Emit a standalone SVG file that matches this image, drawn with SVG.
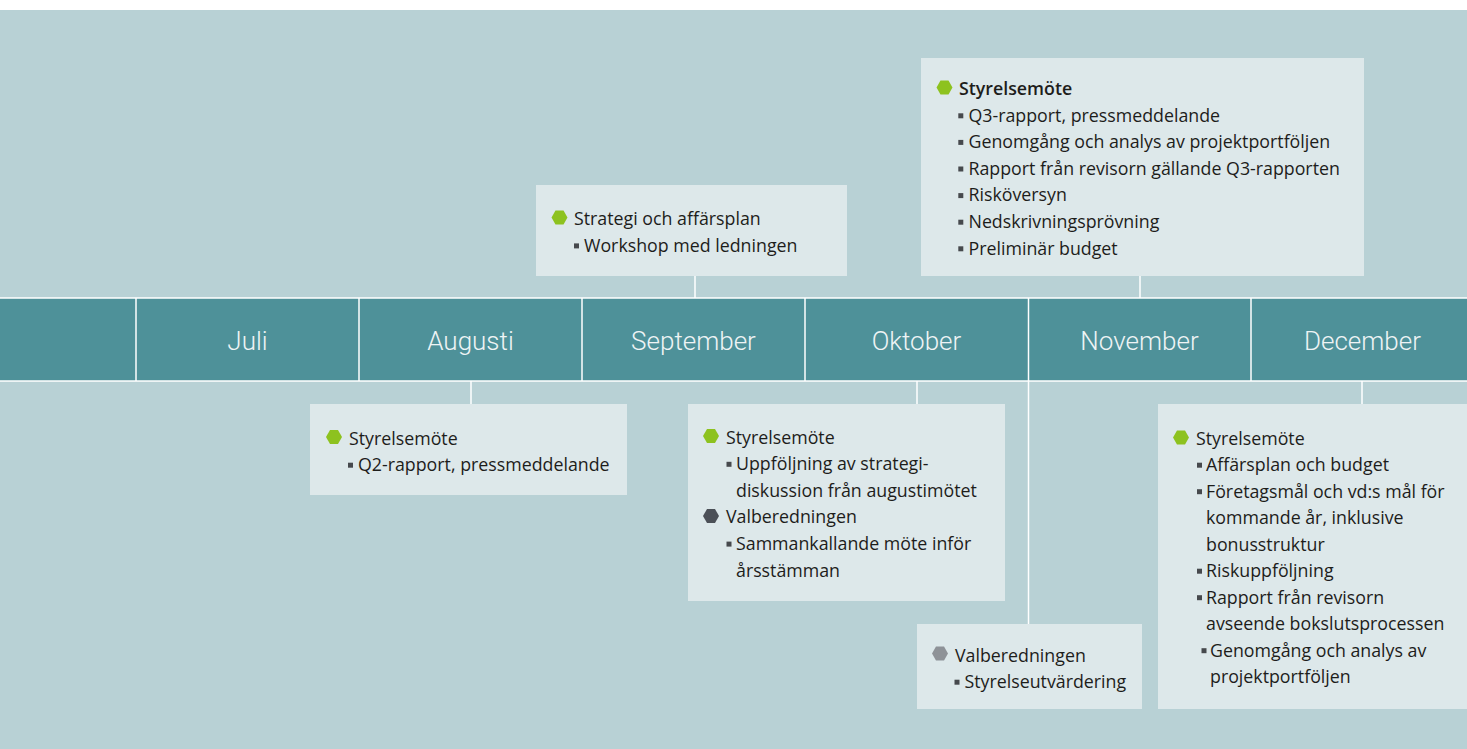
<svg xmlns="http://www.w3.org/2000/svg" xmlns:xlink="http://www.w3.org/1999/xlink" width="1467" height="749" viewBox="0 0 1467 749">
<style>
.box{fill:#dde8ea}
.t{font-family:"Open Sans","Noto Sans","Liberation Sans",sans-serif;font-size:17.8px;fill:#1d1d1b}
.tb{font-weight:600}
.m{font-family:Roboto,"Liberation Sans",sans-serif;font-weight:300;font-size:26px;fill:#eef4f5;text-anchor:middle}
.sq{fill:#46494d}
.ln{stroke:#ffffff;stroke-width:1.5;fill:none}
</style>
<defs>
<polygon id="hex" points="-8,0 -4,-7 4,-7 8,0 4,7 -4,7"/>
</defs>
<rect x="0" y="0" width="1467" height="749" fill="#ffffff"/>
<rect x="0" y="10" width="1467" height="739" fill="#b8d1d5"/>

<g id="band">
<rect x="-2" y="298" width="1471" height="83" fill="#4e9199" stroke="#ffffff" stroke-width="1.5"/>
<g class="ln">
<line x1="136" y1="298" x2="136" y2="381"/>
<line x1="359" y1="298" x2="359" y2="381"/>
<line x1="582" y1="298" x2="582" y2="381"/>
<line x1="805" y1="298" x2="805" y2="381"/>
<line x1="1028.5" y1="298" x2="1028.5" y2="381"/>
<line x1="1251" y1="298" x2="1251" y2="381"/>
</g>
<text class="m" x="247.5" y="350">Juli</text>
<text class="m" x="470.5" y="350">Augusti</text>
<text class="m" x="693.5" y="350">September</text>
<text class="m" x="916.5" y="350">Oktober</text>
<text class="m" x="1139.5" y="350">November</text>
<text class="m" x="1362.5" y="350">December</text>
</g>

<g id="connectors" class="ln">
<line x1="695" y1="276" x2="695" y2="298"/>
<line x1="1140" y1="276" x2="1140" y2="298"/>
<line x1="471" y1="381" x2="471" y2="404"/>
<line x1="917" y1="381" x2="917" y2="404"/>
<line x1="1028.5" y1="381" x2="1028.5" y2="624"/>
<line x1="1362" y1="381" x2="1362" y2="404"/>
</g>

<g id="strategi">
<rect class="box" x="536" y="185" width="311" height="91"/>
<use xlink:href="#hex" href="#hex" x="559.5" y="217.5" fill="#8dc21f"/>
<text class="t" x="574" y="225">Strategi och affärsplan</text>
<rect class="sq" x="574" y="243.4" width="5" height="5"/>
<text class="t" x="584" y="251.7">Workshop med ledningen</text>
</g>

<g id="augusti">
<rect class="box" x="310" y="404" width="317" height="91"/>
<use xlink:href="#hex" href="#hex" x="334" y="437" fill="#8dc21f"/>
<text class="t" x="349" y="445">Styrelsemöte</text>
<rect class="sq" x="348" y="462.7" width="5" height="5"/>
<text class="t" x="358" y="471">Q2-rapport, pressmeddelande</text>
</g>

<g id="oktober">
<rect class="box" x="688" y="404" width="317" height="197"/>
<use xlink:href="#hex" href="#hex" x="711" y="436" fill="#8dc21f"/>
<text class="t" x="726" y="443.5">Styrelsemöte</text>
<rect class="sq" x="726.5" y="461.8" width="5" height="5"/>
<text class="t" x="736" y="470.1">Uppföljning av strategi-</text>
<text class="t" x="736" y="496.7">diskussion från augustimötet</text>
<use xlink:href="#hex" href="#hex" x="711" y="516" fill="#4b5057"/>
<text class="t" x="726" y="523.3">Valberedningen</text>
<rect class="sq" x="726.5" y="541.6" width="5" height="5"/>
<text class="t" x="736" y="549.9">Sammankallande möte inför</text>
<text class="t" x="736" y="576.5">årsstämman</text>
</g>

<g id="november">
<rect class="box" x="921" y="58" width="443" height="218"/>
<use xlink:href="#hex" href="#hex" x="944.5" y="87.5" fill="#8dc21f"/>
<text class="t tb" x="959" y="95">Styrelsemöte</text>
<rect class="sq" x="958.3" y="113.3" width="5" height="5"/>
<text class="t" x="968.5" y="121.6">Q3-rapport, pressmeddelande</text>
<rect class="sq" x="958.3" y="139.9" width="5" height="5"/>
<text class="t" x="968.5" y="148.2">Genomgång och analys av projektportföljen</text>
<rect class="sq" x="958.3" y="166.5" width="5" height="5"/>
<text class="t" x="968.5" y="174.8">Rapport från revisorn gällande Q3-rapporten</text>
<rect class="sq" x="958.3" y="193.1" width="5" height="5"/>
<text class="t" x="968.5" y="201.4">Risköversyn</text>
<rect class="sq" x="958.3" y="219.7" width="5" height="5"/>
<text class="t" x="968.5" y="228">Nedskrivningsprövning</text>
<rect class="sq" x="958.3" y="246.3" width="5" height="5"/>
<text class="t" x="968.5" y="254.6">Preliminär budget</text>
</g>

<g id="valberedningen-nov">
<rect class="box" x="917" y="624" width="225" height="85"/>
<use xlink:href="#hex" href="#hex" x="940" y="653.5" fill="#8e9297"/>
<text class="t" x="955" y="661.5">Valberedningen</text>
<rect class="sq" x="954.5" y="679.7" width="5" height="5"/>
<text class="t" x="964.5" y="688">Styrelseutvärdering</text>
</g>

<g id="december">
<rect class="box" x="1158" y="404" width="309" height="305"/>
<use xlink:href="#hex" href="#hex" x="1181" y="437.5" fill="#8dc21f"/>
<text class="t" x="1196" y="444.5">Styrelsemöte</text>
<rect class="sq" x="1197" y="462.7" width="5" height="5"/>
<text class="t" x="1206" y="471">Affärsplan och budget</text>
<rect class="sq" x="1197" y="489.2" width="5" height="5"/>
<text class="t" x="1206" y="497.5">Företagsmål och vd:s mål för</text>
<text class="t" x="1206" y="524">kommande år, inklusive</text>
<text class="t" x="1206" y="550.5">bonusstruktur</text>
<rect class="sq" x="1197" y="568.7" width="5" height="5"/>
<text class="t" x="1206" y="577">Riskuppföljning</text>
<rect class="sq" x="1197" y="595.2" width="5" height="5"/>
<text class="t" x="1206" y="603.5">Rapport från revisorn</text>
<text class="t" x="1206" y="630">avseende bokslutsprocessen</text>
<rect class="sq" x="1201.5" y="648.2" width="5" height="5"/>
<text class="t" x="1210" y="656.5">Genomgång och analys av</text>
<text class="t" x="1210" y="683">projektportföljen</text>
</g>
</svg>
